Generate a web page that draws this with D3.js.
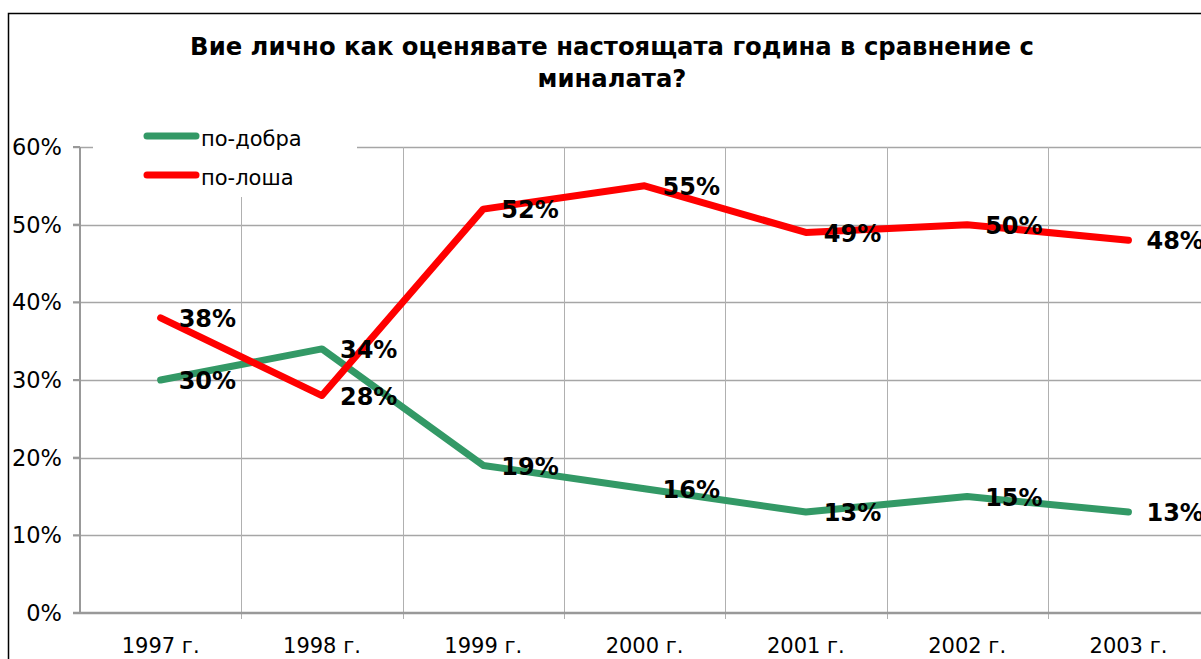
<!DOCTYPE html>
<html>
<head>
<meta charset="utf-8">
<script src="https://cdn.jsdelivr.net/npm/d3@7"></script>
<style>
  body { margin: 0; background: #fff; }
  svg { display: block; font-family: "DejaVu Sans", Verdana, sans-serif; }
</style>
</head>
<body>
<svg id="chart" width="1201" height="659"></svg>
<script>
// data
var years = ["1997 г.", "1998 г.", "1999 г.", "2000 г.", "2001 г.", "2002 г.", "2003 г."]
var better = [30, 34, 19, 16, 13, 15, 13]
var worse = [38, 28, 52, 55, 49, 50, 48]
var seriesNames = ["по-добра", "по-лоша"]
var yTicks = [0, 10, 20, 30, 40, 50, 60]

var svg = d3.select('#chart')
var plotLeft = 80, plotTop = 147, plotBottom = 613
var step = 161.3

var x = d3.scaleBand().domain(years).range([plotLeft, plotLeft + step * years.length])
var y = d3.scaleLinear().domain([0, 60]).range([plotBottom, plotTop])

// outer frame
svg.append('rect')
    .attr('x', 8.5).attr('y', 13.5)
    .attr('width', 1300).attr('height', 800)
    .attr('fill', 'none').attr('stroke', '#000').attr('stroke-width', 1.5)

// title
svg.append('text')
    .attr('x', 612).attr('y', 55)
    .attr('text-anchor', 'middle')
    .style('font-weight', 'bold').style('font-size', '24.3px')
    .text('Вие лично как оценявате настоящата година в сравнение с')
svg.append('text')
    .attr('x', 612).attr('y', 87)
    .attr('text-anchor', 'middle')
    .style('font-weight', 'bold').style('font-size', '24.3px')
    .text('миналата?')

// horizontal grid
svg.append('g')
    .selectAll('line')
    .data(yTicks.slice(1))
    .join('line')
    .attr('x1', plotLeft - 7).attr('x2', 1201)
    .attr('y1', d => Math.round(y(d)) + 0.5)
    .attr('y2', d => Math.round(y(d)) + 0.5)
    .attr('stroke', '#a6a6a6').attr('stroke-width', 1.5)

// vertical grid at category boundaries
var bounds = years.map(d => x(d)).concat([x(years[years.length - 1]) + x.bandwidth()])
svg.append('g')
    .selectAll('line')
    .data(bounds.slice(1))
    .join('line')
    .attr('x1', d => Math.round(d) + 0.5).attr('x2', d => Math.round(d) + 0.5)
    .attr('y1', plotTop).attr('y2', plotBottom + 6)
    .attr('stroke', '#b0b0b0').attr('stroke-width', 1)

// axes lines
svg.append('line')
    .attr('x1', plotLeft).attr('x2', plotLeft)
    .attr('y1', plotTop).attr('y2', plotBottom)
    .attr('stroke', '#999').attr('stroke-width', 2)
svg.append('line')
    .attr('x1', plotLeft - 7).attr('x2', 1201)
    .attr('y1', plotBottom).attr('y2', plotBottom)
    .attr('stroke', '#999').attr('stroke-width', 2.5)
svg.append('g')
    .selectAll('line')
    .data(yTicks)
    .join('line')
    .attr('x1', plotLeft - 7).attr('x2', plotLeft)
    .attr('y1', d => y(d)).attr('y2', d => y(d))
    .attr('stroke', '#999').attr('stroke-width', 2)

// y tick labels
svg.append('g')
    .selectAll('text')
    .data(yTicks)
    .join('text')
    .attr('x', 62)
    .attr('y', d => y(d))
    .attr('dy', '0.36em')
    .attr('text-anchor', 'end')
    .style('font-size', '22.5px')
    .text(d => d + '%')

// x tick labels
svg.append('g')
    .selectAll('text')
    .data(years)
    .join('text')
    .attr('x', d => x(d) + x.bandwidth() / 2)
    .attr('y', 653)
    .attr('text-anchor', 'middle')
    .style('font-size', '21px')
    .text(d => d)

// legend background (covers grid)
svg.append('rect')
    .attr('x', 93).attr('y', 128)
    .attr('width', 264).attr('height', 69)
    .attr('fill', '#fff')

var colors = ['#339966', '#ff0000']
var allSeries = [better, worse]

var line = d3.line()
    .x((d, i) => x(years[i]) + x.bandwidth() / 2)
    .y(d => y(d))

svg.append('g')
    .selectAll('path')
    .data(allSeries)
    .join('path')
    .attr('d', d => line(d))
    .attr('fill', 'none')
    .attr('stroke', (d, i) => colors[i])
    .attr('stroke-width', 7)
    .attr('stroke-linecap', 'round')
    .attr('stroke-linejoin', 'round')

// value labels
allSeries.forEach(function(s) {
    svg.append('g')
        .selectAll('text')
        .data(s)
        .join('text')
        .attr('x', (d, i) => x(years[i]) + x.bandwidth() / 2 + 18)
        .attr('y', d => y(d))
        .attr('dy', '0.38em')
        .style('font-size', '24px')
        .style('font-weight', 'bold')
        .text(d => d + '%')
})

// legend
var legend = svg.append('g')
    .selectAll('g')
    .data(seriesNames)
    .join('g')
    .attr('transform', (d, i) => 'translate(0,' + (136 + i * 39) + ')')
legend.append('line')
    .attr('x1', 147).attr('x2', 196)
    .attr('stroke', (d, i) => colors[i])
    .attr('stroke-width', 7)
    .attr('stroke-linecap', 'round')
legend.append('text')
    .attr('x', 201).attr('y', 10)
    .style('font-size', '21px')
    .text(d => d)
</script>
</body>
</html>
